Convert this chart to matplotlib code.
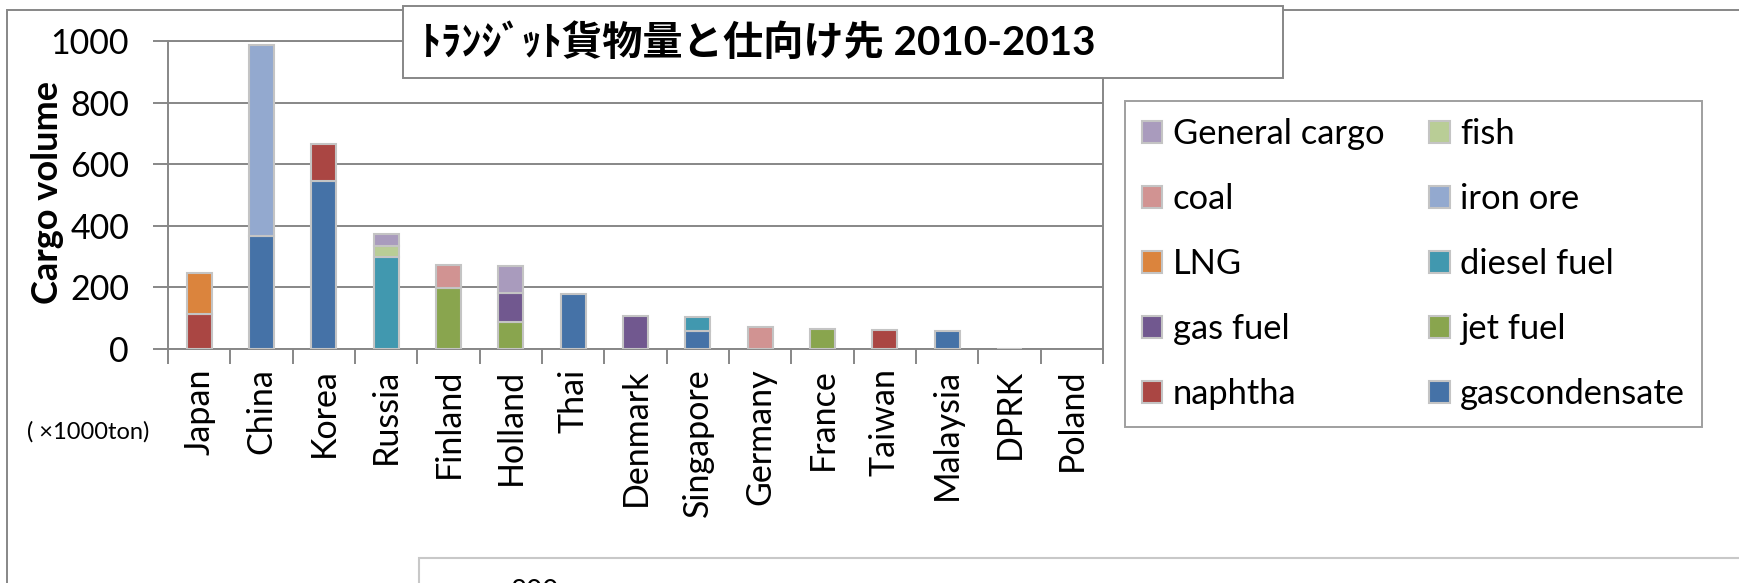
import matplotlib
matplotlib.use("Agg")
import matplotlib.pyplot as plt
from matplotlib.patches import Rectangle, Patch
import numpy as np

plt.rcParams['font.family'] = ['Lato', 'Noto Sans CJK JP', 'DejaVu Sans']

# ---- data (x1000 ton) ----
countries = ["Japan", "China", "Korea", "Russia", "Finland", "Holland", "Thai",
             "Denmark", "Singapore", "Germany", "France", "Taiwan", "Malaysia",
             "DPRK", "Poland"]
gascondensate = [0, 368, 544, 0, 0, 0, 180, 0, 58, 0, 0, 0, 60, 0, 0]
naphtha       = [115, 0, 122, 0, 0, 0, 0, 0, 0, 0, 0, 61, 0, 0, 0]
jet_fuel      = [0, 0, 0, 0, 199, 89, 0, 0, 0, 0, 64, 0, 0, 0, 0]
gas_fuel      = [0, 0, 0, 0, 0, 94, 0, 106, 0, 0, 0, 0, 0, 0, 0]
diesel_fuel   = [0, 0, 0, 300, 0, 0, 0, 0, 45, 0, 0, 0, 0, 0, 0]
lng           = [133, 0, 0, 0, 0, 0, 0, 0, 0, 0, 0, 0, 0, 0, 0]
iron_ore      = [0, 619, 0, 0, 0, 0, 0, 0, 0, 0, 0, 0, 0, 0, 0]
coal          = [0, 0, 0, 0, 74, 0, 0, 0, 0, 70, 0, 0, 0, 0, 0]
fish          = [0, 0, 0, 35, 0, 0, 0, 0, 0, 0, 0, 0, 0, 1, 0]
general_cargo = [0, 0, 0, 40, 0, 85, 0, 0, 0, 0, 0, 0, 0, 0, 0]

series_names = ["gascondensate", "naphtha", "jet fuel", "gas fuel", "diesel fuel",
                "LNG", "iron ore", "coal", "fish", "General cargo"]
series_values = [gascondensate, naphtha, jet_fuel, gas_fuel, diesel_fuel,
                 lng, iron_ore, coal, fish, general_cargo]
series_colors = ["#4572A7", "#AA4643", "#89A54E", "#71588F", "#4198AF",
                 "#DB843D", "#93A9CF", "#D19392", "#B9CD96", "#A99BBD"]

yticks = [0, 200, 400, 600, 800, 1000]
title = "ﾄﾗﾝｼﾞｯﾄ貨物量と仕向け先 2010-2013"
unit_label = "( ×1000ton)"
ylabel = "Cargo volume"

# ---- figure ----
W, H = 1740, 583
fig = plt.figure(figsize=(W / 100, H / 100), dpi=100)
fig.patch.set_facecolor("white")

def fx(x):
    return x / W

def fy(y):
    return 1 - y / H

grid_c = "#878787"
edge_c = "#c4c4c4"
FS = 24.5

# outer chart frame
fig.add_artist(Rectangle((fx(7), fy(H + 20)), 2, (H + 20 - 9.5) / H,
                         transform=fig.transFigure, facecolor="none",
                         edgecolor=grid_c, linewidth=1.4, zorder=0))

ax = fig.add_axes([fx(168), fy(349), (1103 - 168) / W, (349 - 41) / H])
ax.set_facecolor("none")

x = np.arange(len(countries))
bottom = np.zeros(len(countries))
for name, vals, col in zip(series_names, series_values, series_colors):
    vals = np.asarray(vals, dtype=float)
    mask = vals > 0
    ax.bar(x[mask], vals[mask], width=0.4, bottom=bottom[mask], color=col,
           edgecolor=edge_c, linewidth=1.5, zorder=3)
    bottom += vals

ax.set_xlim(-0.5, len(countries) - 0.5)
ax.set_ylim(0, 1000)
ax.set_yticks(yticks)
ax.set_yticklabels([str(v) for v in yticks], fontsize=FS)
ax.yaxis.grid(True, color=grid_c, linewidth=1.4, zorder=1)
ax.set_axisbelow(True)
ax.tick_params(axis="y", direction="out", length=11, width=1.4, color=grid_c, pad=17)

ax.set_xticks(x)
ax.set_xticklabels(countries, rotation=90, fontsize=FS)
ax.set_xticks(np.arange(-0.5, len(countries)), minor=True)
ax.tick_params(axis="x", which="major", length=0, pad=14)
ax.tick_params(axis="x", which="minor", direction="out", length=11, width=1.4, color=grid_c)

for s in ax.spines.values():
    s.set_color(grid_c)
    s.set_linewidth(1.4)

# axis title
fig.text(fx(48), fy(192), ylabel, fontsize=26, fontweight="bold",
         rotation=90, va="center", ha="center")

fig.text(fx(27), fy(432), unit_label, fontsize=17, va="center", ha="left")

# title box
fig.add_artist(Rectangle((fx(403), fy(78)), (1283 - 403) / W, (78 - 6) / H,
                         transform=fig.transFigure, facecolor="white",
                         edgecolor=grid_c, linewidth=1.4, zorder=5))
fig.text(fx(421), fy(43), title, fontsize=29, fontweight="bold",
         va="center", ha="left", zorder=6)

# legend: two columns, filled row by row
order_rows = [["General cargo", "fish"], ["coal", "iron ore"], ["LNG", "diesel fuel"],
              ["gas fuel", "jet fuel"], ["naphtha", "gascondensate"]]
col_order = [r[0] for r in order_rows] + [r[1] for r in order_rows]
cmap = dict(zip(series_names, series_colors))
handles = [Patch(facecolor=cmap[n], edgecolor=edge_c, linewidth=1.5) for n in col_order]
leg = fig.legend(handles, col_order, ncol=2, loc="upper left",
                 bbox_to_anchor=(fx(1124.5), fy(100.7)), bbox_transform=fig.transFigure,
                 fontsize=24.8, frameon=True, fancybox=False, shadow=False,
                 borderaxespad=0, borderpad=0.5, labelspacing=0.96,
                 handlelength=0.6, handleheight=0.6, handletextpad=0.3,
                 columnspacing=1.3)
leg.get_frame().set_edgecolor(grid_c)
leg.get_frame().set_linewidth(1.4)
leg.set_zorder(5)

# lower chart frame, partly visible
fig.add_artist(Rectangle((fx(419), fy(H + 40)), 2, (H + 40 - 558) / H,
                         transform=fig.transFigure, facecolor="white",
                         edgecolor="#c8c8c8", linewidth=1.5, zorder=5))
fig.text(fx(511), fy(579), "800", fontsize=20, va="top", ha="left", zorder=6)

fig.savefig("out.png", dpi=100)
